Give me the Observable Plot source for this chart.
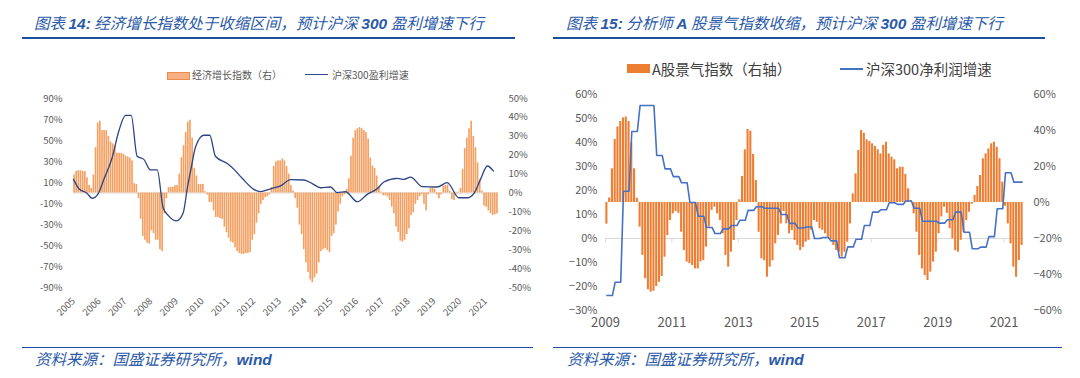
<!DOCTYPE html>
<html><head><meta charset="utf-8">
<script src="https://cdn.jsdelivr.net/npm/d3@7"></script>
<script src="https://cdn.jsdelivr.net/npm/@observablehq/plot@0.6"></script>
<style>
html,body{margin:0;padding:0;background:#fff;}
body{width:1080px;height:378px;position:relative;overflow:hidden;font-family:"Noto Sans CJK SC","Noto Sans",sans-serif;}
.abs{position:absolute;white-space:nowrap;}
.title{font-size:15.5px;font-style:italic;color:#2A5AA8;top:12px;line-height:20px;}
.lat{font-family:"Liberation Sans","Noto Sans",sans-serif;font-weight:bold;}
.rule{height:2px;background:#1C4F9C;}
.src{font-size:15.5px;font-style:italic;color:#2A5AA8;top:348px;line-height:20px;}
.lg1{font-size:10px;color:#595959;line-height:14px;top:68px;}
.lg2{font-size:14.5px;color:#404040;line-height:20px;top:59px;}
</style>
</head>
<body>
<div class="abs title" style="left:34px">图表 <span class="lat">14:</span> 经济增长指数处于收缩区间，预计沪深 <span class="lat">300</span> 盈利增速下行</div>
<div class="abs rule" style="left:22px;top:37px;width:493px"></div>
<div class="abs title" style="left:566px">图表 <span class="lat">15:</span> 分析师 <span class="lat">A</span> 股景气指数收缩，预计沪深 <span class="lat">300</span> 盈利增速下行</div>
<div class="abs rule" style="left:553px;top:37px;width:492px"></div>

<div class="abs" style="left:167px;top:72px;width:21px;height:6px;background:#F6B084;border:1px solid #ED8B4A"></div>
<div class="abs lg1" style="left:192px">经济增长指数（右）</div>
<div class="abs" style="left:305px;top:74px;width:23px;height:1.4px;background:#2E4A87"></div>
<div class="abs lg1" style="left:332px">沪深300盈利增速</div>

<div class="abs" style="left:627px;top:64px;width:23px;height:9px;background:#ED7D31"></div>
<div class="abs lg2" style="left:652px">A股景气指数（右轴）</div>
<div class="abs" style="left:840px;top:67.5px;width:23px;height:2px;background:#4472C4"></div>
<div class="abs lg2" style="left:866px">沪深300净利润增速</div>

<div id="c1" class="abs" style="left:0;top:84px"></div>
<div id="c2" class="abs" style="left:540px;top:80px"></div>

<div class="abs rule" style="left:22px;top:346.5px;width:511px;height:1.6px"></div>
<div class="abs rule" style="left:553px;top:346.5px;width:509px;height:1.6px"></div>
<div class="abs src" style="left:35px">资料来源：国盛证券研究所，<span class="lat">wind</span></div>
<div class="abs src" style="left:567px">资料来源：国盛证券研究所，<span class="lat">wind</span></div>

<script>
// ---------- Chart 14 data ----------
const leftStartYear = 2005; // monthly bars from Jan 2005
const leftBarValues = [
 9.5, 11.5, 11.8, 11.8, 11.5, 11.3, 8, 4, 2.5, 9.5, 24, 37, 38, 33, 33, 33, 30, 27, 26, 25, 21, 21, 21, 20.5, 19.5, 19, 18.5, 17, 5, 4.5,
 -3, -14, -23, -25, -26.5, -27, -20, -21.5, -25, -25, -30, -31, -11, -3,
 3, 3, 3, 3.8, 4, 10, 18.7, 25, 32, 37.5, 38.5, 29, 13, 9, 4.6, 4.6, 4.5, 0.7,
 -1, -5, -5, -9.5, -13, -13, -13.5, -14, -18, -21, -24, -26, -26.5, -29, -31, -32, -32.5, -32.5, -32, -32, -31.5, -25, -22, -16, -11, -6, -4, -2.5, -2, -1,
 3, 14, 16.5, 17, 17, 18, 17, 14, 10, 4, 1,
 -3, -8, -17, -22, -30, -37, -42, -46, -47.5, -45, -43, -37, -31, -30, -29.5, -30.5, -31.5, -23, -21.5, -17, -10, -6, -2, -1,
 2, 7.5, 19.5, 29, 33, 34, 34.6, 34, 33, 32, 28.5, 18.5, 14.3, 13, 9, 3, 0.5,
 -1.5, -1.5, -2, -4, -7.5, -11, -18, -21, -25.5, -26, -25, -22, -19, -12, -10.5, -6, -4, -2,
 -1, -6, -9.5, -1, 2.5, 3, 2, -1, -3, -1, 3.5, 4, 4.2, 1, -3.5, -4, -0.5, 0.5, 2.5, 12.5, 23.5, 29, 34, 38, 30, 24, 16, 7, 1, -7, -7.5, -9.5, -11, -12, -11.5, -11
];
const leftLineYears = [2005.0, 2005.23, 2005.5, 2005.73, 2005.96, 2006.18, 2006.5, 2006.76, 2007.02, 2007.24, 2007.47, 2007.73, 2007.99, 2008.25, 2008.48, 2008.7, 2009.0, 2009.26, 2009.42, 2009.57, 2009.74, 2010.06, 2010.29, 2010.51, 2010.97, 2011.23, 2011.55, 2012.0, 2012.26, 2012.65, 2013.04, 2013.43, 2013.94, 2014.27, 2014.59, 2014.98, 2015.24, 2015.56, 2016.02, 2016.4, 2016.79, 2017.05, 2017.57, 2017.83, 2018.09, 2018.54, 2019.12, 2019.51, 2019.96, 2020.29, 2020.55, 2020.8, 2021.07, 2021.3];
const leftLineValues = [13, 3.5, 0.3, -5, -0.6, 13, 33.6, 59, 74, 74, 35, 32, 22, 22, -14, -22, -26.5, -18.7, 5, 24, 44, 55, 55, 35, 28, 22.5, 14, 3.5, 1.3, 4, 6.7, 12.7, 12.4, 8.9, 5, 5.7, 0.3, 1.2, -8.3, -1.3, 4, 10.5, 14, 13, 15.2, 6, 5.7, 9.8, -4.5, -4.5, -0.3, 13, 25.7, 21];
const leftYTicks = [-90, -70, -50, -30, -10, 10, 30, 50, 70, 90];
const leftY2Ticks = [-50, -40, -30, -20, -10, 0, 10, 20, 30, 40, 50];
const leftXTicks = [2005, 2006, 2007, 2008, 2009, 2010, 2011, 2012, 2013, 2014, 2015, 2016, 2017, 2018, 2019, 2020, 2021];
const leftRatio = 1.8; // right-axis (±50%) to left-axis (±90%) units

// ---------- Chart 15 data ----------
const rightStartYear = 2009; // monthly from Jan 2009
const rightBarValues = [
 -12, 2.5, 18.7, 35, 42, 45, 47, 47.5, 45, 33, 18.7, 2.4,
 -13.7, -29.4, -42.4, -48.5, -49.8, -49.3, -46.7, -44.3, -41.1, -30.4, -18.3, -10, -6.3, -5, -6, -16.5, -26.7, -33.1, -34, -35, -36.9, -36.9, -33, -32.2, -24.8, -13.7, -4.4, -2.6, -6.3, -10, -17.4, -29.4, -35.9, -27.6, -21.1, -10,
 1.5, 14.4, 29.3, 40.6, 39.6, 26.7, 12.2,
 -16.5, -31.3, -32.4, -41.5, -35.9, -32.4, -23, -18.3, -11.9, -5, -11.9, -17.4, -15.5, -21.1, -23.9, -26.7, -25, -22, -21, -15.5, -10, -11, -14.6, -15.5, -17.4, -19.3, -20.7, -23.9, -26.7, -27.6, -30.4, -27.6, -22,
 -11.9, 4.8, 15.9, 28.9, 40, 38.5, 34.8, 33.9, 32.6, 31.1, 29.3, 27, 31.7, 33.5, 27, 25.2, 23.7, 18.7, 19.6, 19.6, 15.6, 7.6, 0.9,
 -6.3, -16.5, -29.4, -36.9, -40.6, -43.3, -38.7, -33.1, -27.6, -17.4, -8, -2.6, -6, -14.6, -20.2, -26.7, -27.6, -21, -16.5, -10, -5.4, -1,
 3.9, 8.9, 15, 24.3, 27, 29.8, 32.6, 33.5, 30.7, 24.3, 11.3,
 -2, -11.9, -23, -35.9, -41.5, -32.2, -23.9
];
const rightLineValues = [
 -23.75, -23.75, -23.75, -18.2, -18.2, -18.2, 19.7, 19.7, 19.7, 44.6, 44.6, 44.6,
 55.4, 55.4, 55.4, 55.4, 55.4, 55.4, 34.6, 34.6, 34.6, 29, 29, 29, 25.8, 25.8, 25.8, 23.2, 23.2, 23.2,
 15, 15, 15, 9.3, 9.3, 9.3, 4.6, 4.6, 4.6, 2.1, 2.1, 2.1, 4, 4, 4, 5.4, 5.4, 5.4,
 7.6, 7.6, 7.6, 11.7, 11.7, 11.7, 13.2, 13.2, 13.2, 12.6, 12.6, 12.6, 12.6, 12.6, 12.6,
 10, 10, 10, 6.3, 6.3, 6.3, 4.4, 4.4, 4.4, 4.8, 4.8, 4.8, 0, 0, 0, 0.4, 0.4, 0.4, -1, -1, -1,
 -8, -8, -8, -3.5, -3.5, -3.5, -0.3, -0.3, -0.3, 5.4, 5.4, 5.4, 11, 11, 11, 12, 12, 12,
 14.9, 14.9, 14.9, 14.2, 14.2, 14.2, 15.6, 15.6, 15.6, 12.6, 12.6, 12.6,
 7.2, 7.2, 7.2, 7.2, 7.2, 7.2, 6.4, 6.4, 6.4, 7.8, 7.8, 7.8, 11, 11, 11, 2.6, 2.6, 2.6,
 -4.3, -4.3, -4.3, -3.6, -3.6, -3.6, 0.8, 0.8, 0.8, 12.4, 12.4, 12.4, 27.4, 27.4, 27.4, 23.5, 23.5, 23.5, 23.5
];
const rightYTicks = [-30, -20, -10, 0, 10, 20, 30, 40, 50, 60];
const rightY2Ticks = [-60, -40, -20, 0, 20, 40, 60];
const rightXTicks = [2009, 2011, 2013, 2015, 2017, 2019, 2021];
// right axis v maps to left-axis units u = 15 + 0.75 v
const r2Offset = 15, r2Scale = 0.75;

const font = '"Noto Sans CJK SC","Noto Sans",sans-serif';
const pct = d => (d < 0 ? "-" + Math.abs(d) : d) + "%";
const pctM = d => (d < 0 ? "\u2212" + Math.abs(d) : d) + "%";

// ---------- Chart 14 ----------
const lb = leftBarValues.map((v, i) => ({x1: leftStartYear + i / 12, x2: leftStartYear + (i + 1) / 12, v}));
const ll = leftLineYears.map((t, i) => ({t, v: leftLineValues[i]}));
const p1 = Plot.plot({
  width: 540, height: 240,
  marginTop: 14, marginBottom: 37, marginLeft: 73, marginRight: 42,
  x: {type: "linear", domain: [leftStartYear, leftStartYear + leftBarValues.length / 12]},
  y: {domain: [-90, 90]},
  style: {background: "transparent", fontFamily: font, fontSize: "9.5px", color: "#595959"},
  marks: [
    Plot.ruleY([0], {stroke: "#D9D9D9", strokeWidth: 1}),
    Plot.rect(lb, {x1: "x1", x2: "x2", y1: 0, y2: d => d.v * leftRatio, fill: "#F4A062", insetLeft: 0.25, insetRight: 0.25}),
    Plot.line(ll, {x: "t", y: "v", stroke: "#2A4485", strokeWidth: 1.3, curve: "monotone-x"}),
    Plot.axisY({anchor: "left", ticks: leftYTicks, tickFormat: pct, tickSize: 0, tickPadding: 11, label: null}),
    Plot.axisY({anchor: "right", ticks: leftY2Ticks.map(v => v * leftRatio), tickFormat: d => pct(Math.round(d / leftRatio)), tickSize: 0, tickPadding: 10, label: null}),
    Plot.axisX({ticks: leftXTicks, tickFormat: d => String(d), tickRotate: -45, tickSize: 0, tickPadding: 12, label: null})
  ]
});
document.getElementById("c1").append(p1);

// ---------- Chart 15 ----------
const rb = rightBarValues.map((v, i) => ({x1: rightStartYear + i / 12, x2: rightStartYear + (i + 1) / 12, v}));
const rl = rightLineValues.map((v, i) => ({t: rightStartYear + (i + 0.5) / 12, v}));
const p2 = Plot.plot({
  width: 540, height: 255,
  marginTop: 14, marginBottom: 25, marginLeft: 65, marginRight: 57,
  x: {type: "linear", domain: [rightStartYear, rightStartYear + rightBarValues.length / 12]},
  y: {domain: [-30, 60]},
  style: {background: "transparent", fontFamily: font, fontSize: "11px", color: "#595959"},
  marks: [
    Plot.ruleY([0], {stroke: "#D9D9D9", strokeWidth: 1.2}),
    Plot.ruleX(rightXTicks, {x: d => d, y1: 0, y2: -1.8, stroke: "#D9D9D9"}),
    Plot.rect(rb, {x1: "x1", x2: "x2", y1: r2Offset, y2: d => r2Offset + r2Scale * d.v, fill: "#ED7D31", insetLeft: 0.35, insetRight: 0.35}),
    Plot.line(rl, {x: "t", y: "v", stroke: "#4472C4", strokeWidth: 1.6}),
    Plot.axisY({anchor: "left", ticks: rightYTicks, tickFormat: pctM, tickSize: 0, tickPadding: 8, label: null}),
    Plot.axisY({anchor: "right", ticks: rightY2Ticks.map(v => r2Offset + r2Scale * v), tickFormat: d => pctM(Math.round((d - r2Offset) / r2Scale)), tickSize: 0, tickPadding: 10, label: null}),
    Plot.axisX({ticks: rightXTicks, tickFormat: d => String(d), tickSize: 0, tickPadding: 7, fontSize: 13, label: null})
  ]
});
document.getElementById("c2").append(p2);
</script>
</body></html>
